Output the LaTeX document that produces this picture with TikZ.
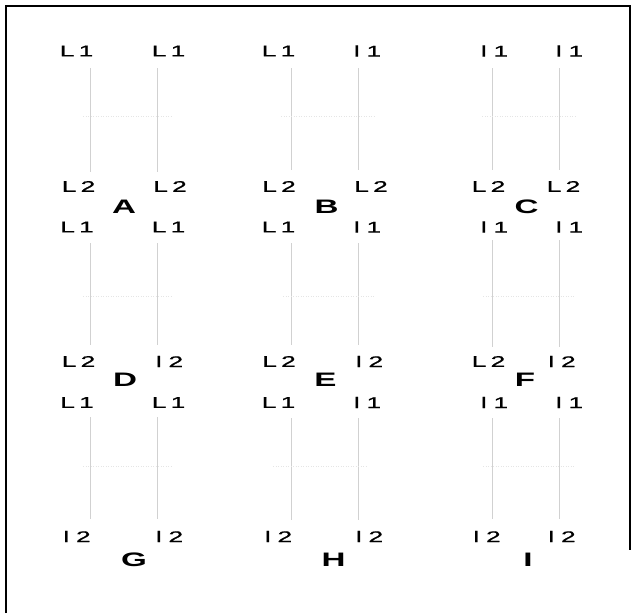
\documentclass[tikz,border=0pt]{standalone}
\usepackage{graphicx}
\usepackage{fontspec}
\setmainfont{Liberation Sans}
\newfontfamily\labfont[FakeBold=0.8]{Liberation Sans}
\newcommand\gU[1]{\scalebox{1.7}[1]{L\kern2.5pt#1}}
\newcommand\gD[1]{\scalebox{1.7}[1]{l\kern4pt#1}}
\newcommand\pn[1]{\scalebox{1.7}[1]{#1}}
\tikzset{
  lab/.style={font=\labfont\fontsize{15.5}{17}\selectfont, inner sep=0pt},
  panelname/.style={font=\fontsize{19.5}{21}\selectfont\bfseries, inner sep=0pt},
  strand/.style={draw=black!18, line width=0.9pt},
  midline/.style={draw=black!10, line width=0.6pt, dash pattern=on 1pt off 1.5pt},
  frameline/.style={draw=black, line width=2pt}
}
\begin{document}
\begin{tikzpicture}[x=1pt,y=-1pt]
\useasboundingbox (0,0) rectangle (636,613);
% frame
\coordinate (f1) at (6,613);
\coordinate (f2) at (6,6);
\coordinate (f3) at (630,6);
\coordinate (f4) at (630,550);
\draw[frameline] (f1) -- (f2) -- (f3) -- (f4);
% strands
\foreach \p/\lx/\ty/\by in {A/90/68/172, B/291/68/170, C/492/68/170,
  D/90/243/345, E/291/243/345, F/492/240/347,
  G/90/417/519, H/291/418/520, I/492/418/519}{
  \coordinate (\p-lt) at (\lx,\ty);
  \coordinate (\p-lb) at (\lx,\by);
  \coordinate (\p-rt) at (\lx+67,\ty);
  \coordinate (\p-rb) at (\lx+67,\by);
  \draw[strand] (\p-lt) -- (\p-lb);
  \draw[strand] (\p-rt) -- (\p-rb);
}
% faint middle lines
\foreach \p/\a/\b/\y in {A/83/173/116, B/281/374/116, C/482/575/116,
  D/83/173/296, E/283/375/296, F/483/575/296,
  G/83/173/466, H/273/366/466, I/483/575/466}{
  \coordinate (\p-ma) at (\a,\y);
  \coordinate (\p-mb) at (\b,\y);
  \draw[midline] (\p-ma) -- (\p-mb);
}
% labels
\foreach \n/\x/\y/\t in {
  A-tl/76.5/51/{\gU{1}}, A-tr/168.5/51/{\gU{1}}, A-bl/78.5/186.5/{\gU{2}}, A-br/170/186.5/{\gU{2}},
  B-tl/278.5/51/{\gU{1}}, B-tr/367.5/51/{\gD{1}}, B-bl/279/186.5/{\gU{2}}, B-br/371/186.5/{\gU{2}},
  C-tl/494.5/51/{\gD{1}}, C-tr/569.5/51/{\gD{1}}, C-bl/488.5/186.5/{\gU{2}}, C-br/563.5/186.5/{\gU{2}},
  D-tl/77/227/{\gU{1}}, D-tr/168.5/227/{\gU{1}}, D-bl/78.5/361.5/{\gU{2}}, D-br/169.5/361.5/{\gD{2}},
  E-tl/278.5/227/{\gU{1}}, E-tr/367.5/227/{\gD{1}}, E-bl/279/361.5/{\gU{2}}, E-br/369.5/361.5/{\gD{2}},
  F-tl/494.5/227/{\gD{1}}, F-tr/569.5/227/{\gD{1}}, F-bl/488.5/361.5/{\gU{2}}, F-br/562/361.5/{\gD{2}},
  G-tl/77/402.5/{\gU{1}}, G-tr/168.5/402.5/{\gU{1}}, G-bl/77/536.5/{\gD{2}}, G-br/169.5/536.5/{\gD{2}},
  H-tl/278.5/402.5/{\gU{1}}, H-tr/367.5/402.5/{\gD{1}}, H-bl/278.5/536.5/{\gD{2}}, H-br/369.5/536.5/{\gD{2}},
  I-tl/494.5/402.5/{\gD{1}}, I-tr/569.5/402.5/{\gD{1}}, I-bl/487/536.5/{\gD{2}}, I-br/562/536.5/{\gD{2}}}{
  \node[lab] (\n) at (\x,\y) {\t};
}
% panel names
\foreach \n/\x/\y in {A/124/207, B/326.5/207, C/526.5/207,
  D/125/380, E/325.5/380, F/525/380,
  G/134/560, H/333.5/560, I/528/560}{
  \node[panelname] (name-\n) at (\x,\y) {\pn{\n}};
}
\end{tikzpicture}
\end{document}
